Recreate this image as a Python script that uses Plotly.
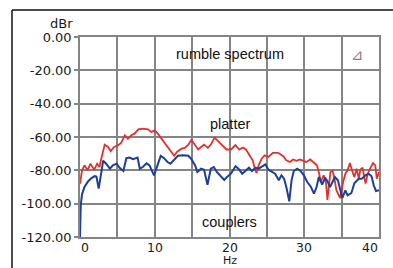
import plotly.graph_objects as go

# ---- data ----
platter_hz = [0, 0.27, 0.6, 1.0, 1.4, 1.9, 2.3, 2.6, 2.9, 3.3, 3.75, 4.1, 4.55, 5.1, 5.5, 6.0, 6.4, 6.9,
              7.3, 7.8, 8.4, 9.1, 9.55, 10.0, 10.4, 10.9, 11.4, 12.0, 12.6, 13.0, 13.6, 14.0, 14.5, 14.9,
              15.4, 15.8, 16.2, 16.6, 17.1, 17.5, 18.0, 18.5, 19.0, 19.6, 20.2, 20.8, 21.3, 21.8, 22.2,
              22.7, 23.1, 23.4, 23.6, 23.9, 24.3, 24.7, 25.2, 25.8, 26.5, 27.2, 27.6, 28.1, 28.5, 29.0,
              29.4, 29.9, 30.3, 30.8, 31.2, 31.7, 32.0, 32.2, 32.6, 32.9, 33.1, 33.5, 33.8, 34.0, 34.3,
              34.8, 35.2, 35.5, 35.8, 36.1, 36.5, 36.7, 37.0, 37.3, 37.5, 37.8, 38.2, 38.5, 38.8, 39.2,
              39.5, 39.7, 40.0]
platter_db = [-88, -80, -77, -80, -76, -79.6, -76, -78, -72, -64.6, -66, -68.5, -66, -65, -63.6, -59, -61,
              -58.8, -58, -55.4, -55, -55.4, -57, -56, -58, -61, -64.6, -67.5, -71.3, -68.8, -67, -66.5,
              -64.6, -61.7, -64.6, -67.5, -66, -64.6, -66.5, -64.6, -60.4, -62.7, -64.6, -67.5, -67.5,
              -64.8, -67.5, -66.3, -67.5, -71, -74, -79, -81.6, -77, -73, -71, -72, -69.5, -69.5, -71.5,
              -74, -75, -73.5, -74.3, -73.5, -74.3, -75, -73.5, -75, -77, -82, -87, -83, -87, -97.8, -81,
              -80.4, -84, -92, -96.6, -87, -82, -80, -75.6, -81.6, -84, -79, -85, -79.6, -78.4, -88, -82,
              -79, -75.6, -77, -85, -81]

couplers_hz = [0, 0.1, 0.27, 0.6, 1.07, 1.5, 1.96, 2.2, 2.5, 2.77, 3.1, 3.5, 4.0, 4.4, 4.9, 5.3, 5.8, 6.2,
               6.65, 7.1, 7.7, 8.0, 8.4, 8.9, 9.3, 9.9, 10.4, 10.8, 11.25, 11.7, 12.1, 12.7, 13.1, 13.8,
               14.5, 14.9, 15.4, 15.7, 16.2, 16.6, 17.05, 17.5, 17.9, 18.3, 18.7, 19.3, 19.7, 20.2, 20.8,
               21.2, 21.7, 22.1, 22.6, 23.0, 23.5, 23.9, 24.35, 24.8, 25.2, 25.7, 26.1, 26.6, 26.95, 27.3,
               27.6, 28.0, 28.3, 28.6, 29.05, 29.5, 29.95, 30.4, 30.9, 31.3, 31.65, 31.95, 32.4, 32.8,
               33.1, 33.45, 33.75, 34.1, 34.5, 34.8, 35.1, 35.5, 35.8, 36.3, 36.7, 37.3, 37.7, 38.2,
               38.6, 39.0, 39.3, 39.6, 40.0]
couplers_db = [-120, -101, -94.4, -90, -86.7, -84.8, -83.5, -83.8, -91, -82, -74.2, -76, -79, -77, -76,
               -78.5, -80.4, -72.7, -72.3, -73.3, -72.3, -79, -78, -75.8, -77, -83, -75.8, -71.3, -72.7,
               -75, -76, -73.3, -71.3, -71, -71.3, -73.3, -77, -81, -79, -79.6, -88.6, -79, -78, -81, -83,
               -85.8, -83.8, -82, -77.6, -79, -82, -80.4, -78.4, -80.4, -78.4, -79, -77.6, -76.4, -79.6,
               -81, -82, -86, -83, -85, -90, -98.6, -86, -80.4, -79, -80.4, -83, -87, -90, -94, -90, -84,
               -88.5, -84.4, -86.5, -90, -87, -84, -86, -91.7, -96.6, -92, -95, -93.7, -87.7, -85, -85,
               -83, -82, -83.6, -89, -92.4, -92]

y_ticks = [0, -20, -40, -60, -80, -100, -120]
y_tick_labels = ["0.00", "-20.00", "-40.00", "-60.00", "-80.00", "-100.00", "-120.00"]
x_ticks = [0, 10, 20, 30, 40]
x_tick_labels = ["0", "10", "20", "30", "40"]
x_grid = [0, 5, 10, 15, 20, 25, 30, 35, 40]

labels = [("rumble spectrum", 20, -10), ("platter", 20, -52), ("couplers", 20, -111)]

GRID = "#858585"
TICKFONT = dict(family="DejaVu Sans", size=13, color="#1a1a1a")
XTICKFONT = dict(family="DejaVu Sans", size=12.5, color="#1a1a1a")
LABELFONT = dict(family="Liberation Sans, Arial", size=14.5, color="#111111")

fig = go.Figure()
fig.add_trace(go.Scatter(x=platter_hz, y=platter_db, mode="lines",
                         line=dict(color="#e2312b", width=1.8), name="platter"))
fig.add_trace(go.Scatter(x=couplers_hz, y=couplers_db, mode="lines",
                         line=dict(color="#1d3f98", width=2), name="couplers"))

fig.update_xaxes(range=[0, 40], tickvals=x_grid, ticktext=[""] * len(x_grid), showgrid=True,
                 gridcolor=GRID, gridwidth=1.5, zeroline=False, showline=True, mirror=True,
                 linecolor=GRID, linewidth=1.5, ticks="", automargin=False)
fig.update_yaxes(range=[-120, 0], tickvals=y_ticks, ticktext=y_tick_labels, showgrid=True,
                 gridcolor=GRID, gridwidth=1.5, zeroline=False, showline=True, mirror=True,
                 linecolor=GRID, linewidth=1.5, ticks="outside", ticklen=4, tickcolor=GRID,
                 tickwidth=1.5, tickfont=TICKFONT, automargin=False)

annotations = []
for v, t in zip(x_ticks, x_tick_labels):
    anchor = "left" if v == x_ticks[0] else ("right" if v == x_ticks[-1] else "center")
    annotations.append(dict(x=v, y=0, xref="x", yref="paper", text=t, showarrow=False,
                            xanchor=anchor, yanchor="top", yshift=-2, borderpad=0,
                            font=XTICKFONT))
annotations.append(dict(x=20, y=0, xref="x", yref="paper", text="Hz", showarrow=False,
                        xanchor="center", yanchor="bottom", yshift=-31, borderpad=0,
                        font=dict(family="DejaVu Sans", size=11, color="#1a1a1a")))
annotations.append(dict(x=0, y=1, xref="paper", yref="paper", text="dBr", showarrow=False,
                        xanchor="right", yanchor="bottom", xshift=-5, yshift=4, font=TICKFONT))
for txt, lx, ly in labels:
    annotations.append(dict(x=lx, y=ly, xref="x", yref="y", text=txt, showarrow=False,
                            xanchor="center", yanchor="middle", font=LABELFONT))
annotations.append(dict(x=0.955, y=0.965, xref="paper", yref="paper", text="⊿", showarrow=False,
                        font=dict(family="DejaVu Sans", size=15, color="#a07585")))

fig.update_layout(
    width=393, height=268,
    margin=dict(l=80, r=14, t=37, b=31),
    paper_bgcolor="white", plot_bgcolor="white",
    showlegend=False,
    annotations=annotations,
    shapes=[
        dict(type="line", xref="paper", yref="paper", x0=-0.2274, x1=1.2, y0=1.135, y1=1.135,
             line=dict(color="#111111", width=1.5)),
        dict(type="line", xref="paper", yref="paper", x0=-0.2274, x1=-0.2274, y0=1.135, y1=-0.3,
             line=dict(color="#111111", width=1.5)),
    ],
)

fig.write_html("out.html", config={"displayModeBar": False},
               post_script="document.body.style.margin='0';")
